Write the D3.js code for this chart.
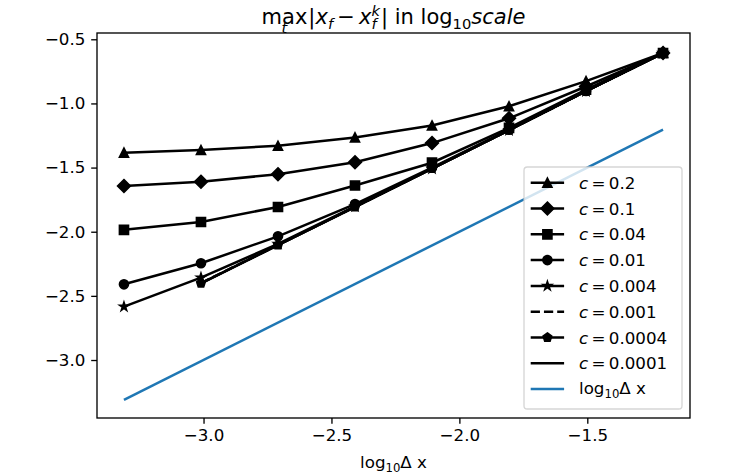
<!DOCTYPE html>
<html>
<head>
<meta charset="utf-8">
<script src="https://cdn.jsdelivr.net/npm/d3@7"></script>
<style>
body { margin: 0; background: #fff; }
text { font-family: "DejaVu Sans", sans-serif; fill: #000; }
</style>
</head>
<body>
<div id="chart"></div>
<script>
// log10 of the grid step (1/2048 ... 1/16)
const logDx = [-3.311, -3.010, -2.709, -2.408, -2.107, -1.806, -1.505, -1.204];
const cLabels = ["0.2", "0.1", "0.04", "0.01", "0.004", "0.001", "0.0004", "0.0001"];

// max error, log10 scale, one array per c (null = no run at that step)
const err_c02    = [-1.384, -1.363, -1.330, -1.265, -1.172, -1.022, -0.826, -0.607];
const err_c01    = [-1.643, -1.610, -1.552, -1.459, -1.309, -1.116, -0.868, -0.607];
const err_c004   = [-1.985, -1.924, -1.807, -1.640, -1.462, -1.190, -0.893, -0.607];
const err_c001   = [-2.410, -2.246, -2.036, -1.785, -1.500, -1.205, -0.903, -0.607];
const err_c0004  = [-2.584, -2.358, -2.095, -1.803, -1.508, -1.208, -0.905, -0.607];
const err_c0001  = [null,   -2.400, -2.103, -1.806, -1.508, -1.208, -0.905, -0.607];
const err_c00004 = [null,   -2.402, -2.104, -1.807, -1.508, -1.208, -0.905, -0.607];
const err_c00001 = [null,   -2.403, -2.105, -1.808, -1.508, -1.208, -0.905, -0.607];
const refLine = [-3.311, -1.204];   // y = log10 dx, drawn between first and last step

const xTicks = [-3.0, -2.5, -2.0, -1.5];
const yTicks = [-3.0, -2.5, -2.0, -1.5, -1.0, -0.5];

const series = [
    {c: cLabels[0], vals: err_c02,    marker: 'tri'},
    {c: cLabels[1], vals: err_c01,    marker: 'dia'},
    {c: cLabels[2], vals: err_c004,   marker: 'sq'},
    {c: cLabels[3], vals: err_c001,   marker: 'circ'},
    {c: cLabels[4], vals: err_c0004,  marker: 'star'},
    {c: cLabels[5], vals: err_c0001,  marker: null, dash: '9.25,4'},
    {c: cLabels[6], vals: err_c00004, marker: 'pent'},
    {c: cLabels[7], vals: err_c00001, marker: null}
];

// ===== layout ==========================================================
const svgWidth = 744;
const svgHeight = 474;
const box = {left: 97, right: 690, top: 33, bottom: 418};
const fs = 16.7;           // 10pt @ 120dpi
const lw = 2.5;            // 1.5pt
const ms = 9;              // marker size
const blue = '#1f77b4';

const svg = d3.select('#chart').append('svg')
    .attr('width', svgWidth)
    .attr('height', svgHeight);

const xScale = d3.scaleLinear().domain([-3.4164, -1.0986]).range([box.left, box.right]);
const yScale = d3.scaleLinear().domain([-3.452, -0.451]).range([box.bottom, box.top]);

function markerPath(type, s){
    const h = s / 2;
    switch (type){
        case 'tri':
            return `M0,${-h}L${h},${h}L${-h},${h}Z`;
        case 'dia': {
            const d = s * 0.707;
            return `M0,${-d}L${d},0L0,${d}L${-d},0Z`;
        }
        case 'sq':
            return `M${-h},${-h}H${h}V${h}H${-h}Z`;
        case 'circ':
            return `M${h},0A${h},${h} 0 1,1 ${-h},0A${h},${h} 0 1,1 ${h},0Z`;
        case 'star': {
            let p = [];
            for(let i=0; i<10; i++){
                const r = (i % 2 == 0) ? h : h * 0.381966;
                const a = -Math.PI/2 + i * Math.PI/5;
                p.push([r*Math.cos(a), r*Math.sin(a)]);
            }
            return 'M' + p.map(q=>q.join(',')).join('L') + 'Z';
        }
        case 'pent': {
            let p = [];
            for(let i=0; i<5; i++){
                const a = -Math.PI/2 + i * 2*Math.PI/5;
                p.push([h*Math.cos(a), h*Math.sin(a)]);
            }
            return 'M' + p.map(q=>q.join(',')).join('L') + 'Z';
        }
    }
    return null;
}

// ===== axes ============================================================
const gx = svg.append('g')
    .attr('transform', `translate(0,${box.bottom})`)
    .call(d3.axisBottom(xScale).tickValues(xTicks).tickFormat(d3.format('.1f'))
        .tickSize(5.8).tickPadding(5.8));
const gy = svg.append('g')
    .attr('transform', `translate(${box.left},0)`)
    .call(d3.axisLeft(yScale).tickValues(yTicks).tickFormat(d3.format('.1f'))
        .tickSize(5.8).tickPadding(5.8));
[gx, gy].forEach(g=>{
    g.attr('font-family', null).attr('font-size', null);
    g.select('.domain').remove();
    g.selectAll('line').attr('stroke', '#000').attr('stroke-width', 1.33);
    g.selectAll('text').style('font-size', fs + 'px');
});

// ===== series ==========================================================
const line = d3.line()
    .defined(d => d[1] != null)
    .x(d => xScale(d[0]))
    .y(d => yScale(d[1]));

const plot = svg.append('g');
series.forEach(s=>{
    const pts = logDx.map((x, i) => [x, s.vals[i]]);
    plot.append('path')
        .attr('d', line(pts))
        .attr('fill', 'none')
        .attr('stroke', '#000')
        .attr('stroke-width', lw)
        .attr('stroke-dasharray', s.dash || null);
    if(s.marker){
        plot.selectAll(null).data(pts.filter(d=>d[1] != null))
            .enter()
            .append('path')
            .attr('d', markerPath(s.marker, ms))
            .attr('transform', d => `translate(${xScale(d[0])},${yScale(d[1])})`)
            .attr('fill', '#000')
            .attr('stroke', '#000')
            .attr('stroke-width', 1.67);
    }
});

plot.append('path')
    .attr('d', line(refLine.map(v => [v, v])))
    .attr('fill', 'none')
    .attr('stroke', blue)
    .attr('stroke-width', lw);

// spines
svg.append('rect')
    .attr('x', box.left).attr('y', box.top)
    .attr('width', box.right - box.left).attr('height', box.bottom - box.top)
    .attr('fill', 'none').attr('stroke', '#000').attr('stroke-width', 1.33);

// ===== legend ==========================================================
const lg = {x: 524, y: 167, w: 158, h: 242};
const legend = svg.append('g');
legend.append('rect')
    .attr('x', lg.x).attr('y', lg.y).attr('width', lg.w).attr('height', lg.h)
    .attr('rx', 3.3)
    .attr('fill', '#fff').attr('fill-opacity', 0.8)
    .attr('stroke', '#ccc').attr('stroke-opacity', 0.8).attr('stroke-width', 1.33);

const rowY = d3.scaleLinear().domain([0, 1]).range([182.7, 182.7 + 25.8]);
const hx0 = 530.7, hx1 = 564.1, tx = 579;

series.forEach((s, i)=>{
    const y = rowY(i);
    legend.append('line')
        .attr('x1', hx0).attr('x2', hx1).attr('y1', y).attr('y2', y)
        .attr('stroke', '#000').attr('stroke-width', lw)
        .attr('stroke-dasharray', s.dash || null);
    if(s.marker){
        legend.append('path')
            .attr('d', markerPath(s.marker, ms))
            .attr('transform', `translate(${(hx0+hx1)/2},${y})`)
            .attr('fill', '#000').attr('stroke', '#000').attr('stroke-width', 1.67);
    }
    const t = legend.append('text')
        .attr('x', tx).attr('y', y + 0.36*fs)
        .style('font-size', fs + 'px');
    t.append('tspan').style('font-style', 'italic').text('c');
    t.append('tspan').text('\u2009=\u2009' + s.c);
});
{
    const y = rowY(series.length);
    legend.append('line')
        .attr('x1', hx0).attr('x2', hx1).attr('y1', y).attr('y2', y)
        .attr('stroke', blue).attr('stroke-width', lw);
    const t = legend.append('text')
        .attr('x', tx).attr('y', y + 0.36*fs - 1)
        .style('font-size', fs + 'px');
    t.append('tspan').text('log');
    t.append('tspan').attr('dy', 3.5).style('font-size', (fs*0.7) + 'px').text('10');
    t.append('tspan').attr('dy', -3.5).text('Δ x');
}

// ===== x label =========================================================
{
    const t = svg.append('text')
        .attr('x', (box.left + box.right)/2).attr('y', 468)
        .attr('text-anchor', 'middle')
        .style('font-size', fs + 'px');
    t.append('tspan').text('log');
    t.append('tspan').attr('dy', 3.5).style('font-size', (fs*0.7) + 'px').text('10');
    t.append('tspan').attr('dy', -3.5).text('Δ x');
}

// ===== title (one text element, tspans with dx/dy) =====================
const tfs = 21;
const sfs = tfs * 0.7;
function measure(str, size, italic){
    const m = svg.append('text')
        .style('font-size', size + 'px')
        .style('font-style', italic ? 'italic' : null)
        .text(str);
    const w = m.node().getComputedTextLength();
    m.remove();
    return w;
}
const wMax = measure('max', tfs, false);
const wK = measure('k', sfs, true);
const wF = measure('f', sfs, true);
const wT = measure('t', sfs, true);

const title = svg.append('text')
    .attr('x', (box.left + box.right)/2)
    .attr('y', 24)
    .attr('text-anchor', 'middle')
    .style('font-size', tfs + 'px');
const ts = (txt, opt) => {
    const sp = title.append('tspan').text(txt);
    if(opt.dx) sp.attr('dx', opt.dx);
    if(opt.dy) sp.attr('dy', opt.dy);
    if(opt.it) sp.style('font-style', 'italic');
    if(opt.small) sp.style('font-size', sfs + 'px');
    return sp;
};
const tPos = 0.5;   // where the "t" sits under "max"
ts('max', {});
ts('t', {dx: -wMax*(1 - tPos) - wT/2, dy: 9, it: true, small: true});
ts('|', {dx: wMax*(1 - tPos) - wT/2 + 1, dy: -9});
ts('x', {it: true});
ts('f', {dy: 4.5, it: true, small: true});
ts('\u2009−\u2009', {dy: -4.5});
ts('x', {it: true});
ts('k', {dy: -8, it: true, small: true});
ts('f', {dx: -wK, dy: 12.5, it: true, small: true});
ts('|', {dx: Math.max(wK - wF, 0) + 1, dy: -4.5});
ts(' in log', {});
ts('10', {dy: 4.5, small: true});
ts('scale', {dy: -4.5, it: true});
</script>
</body>
</html>
